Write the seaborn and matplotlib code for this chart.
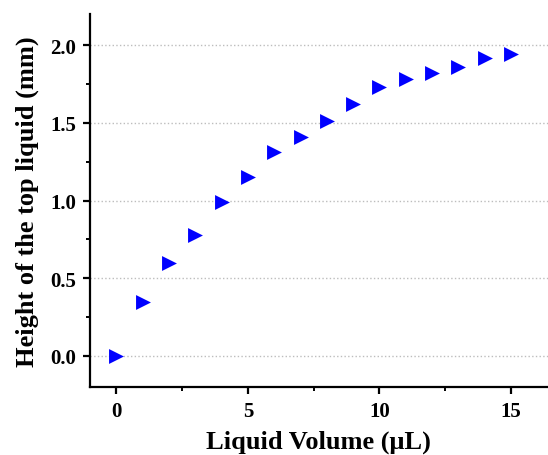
import numpy as np
import pandas as pd
import seaborn as sns
import matplotlib.pyplot as plt
from matplotlib.ticker import MultipleLocator

volume = [0, 1, 2, 3, 4, 5, 6, 7, 8, 9, 10, 11, 12, 13, 14, 15]
height = [0.0, 0.35, 0.60, 0.78, 0.99, 1.15, 1.31, 1.41, 1.51, 1.62,
          1.73, 1.78, 1.82, 1.86, 1.92, 1.94]

df = pd.DataFrame({"volume": volume, "height": height})

sns.set_style("white")
plt.rcParams['font.family'] = ['Liberation Serif', 'DejaVu Serif']
plt.rcParams['font.weight'] = 'bold'
plt.rcParams['text.color'] = 'black'
plt.rcParams['axes.labelcolor'] = 'black'
plt.rcParams['xtick.color'] = 'black'
plt.rcParams['ytick.color'] = 'black'

fig = plt.figure(figsize=(5.48, 4.56), dpi=100)
ax = fig.add_axes([0.164, 0.149, 0.836, 0.818])

sns.scatterplot(data=df, x="volume", y="height", marker=">", color="#0000ff",
                s=115, linewidth=0, ax=ax, zorder=3)

ax.set_xlim(-1, 16.4)
ax.set_ylim(-0.2, 2.2)
ax.xaxis.set_major_locator(MultipleLocator(5))
ax.xaxis.set_minor_locator(MultipleLocator(2.5))
ax.yaxis.set_major_locator(MultipleLocator(0.5))
ax.yaxis.set_minor_locator(MultipleLocator(0.25))

ax.grid(axis='y', which='major', linestyle=':', color='#bdbdbd', linewidth=1)
ax.set_axisbelow(True)

for side in ['top', 'right']:
    ax.spines[side].set_visible(False)
for side in ['left', 'bottom']:
    ax.spines[side].set_linewidth(1.6)
    ax.spines[side].set_color('black')

ax.tick_params(which='major', direction='out', length=5, width=1.6,
               labelsize=15, left=True, bottom=True, pad=5)
ax.tick_params(which='minor', direction='out', length=3, width=1.4,
               left=True, bottom=True)
for lbl in ax.get_xticklabels() + ax.get_yticklabels():
    lbl.set_fontweight('bold')

ax.set_xlabel("Liquid Volume (μL)", fontsize=19, fontweight='bold', labelpad=6)
ax.set_ylabel("Height of the top liquid (mm)", fontsize=19, fontweight='bold', labelpad=8)

fig.savefig("out.png", dpi=100)
